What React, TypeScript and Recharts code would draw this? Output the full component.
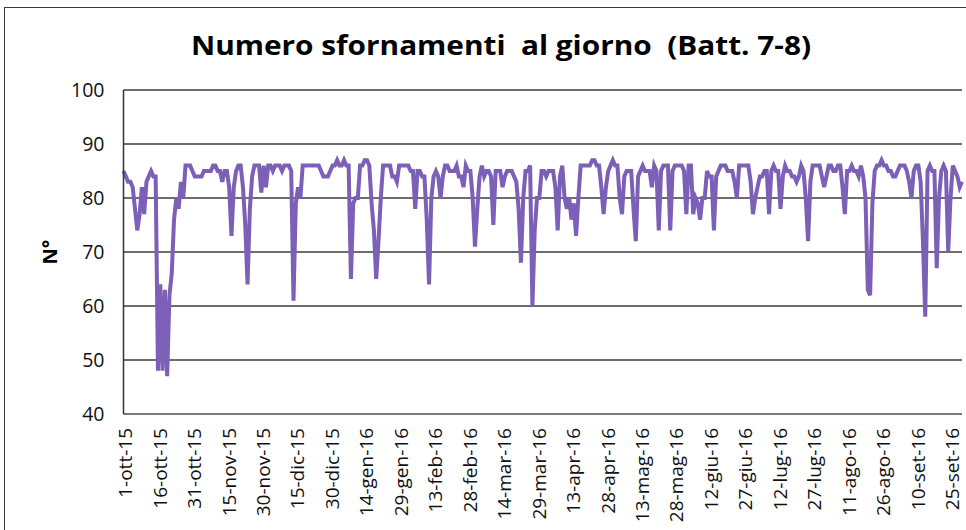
import { LineChart, Line, XAxis, YAxis, CartesianGrid } from 'recharts';

// daily values, one array per month (Oct 2015 - Sep 2016)
const OTT_15 = [85, 84, 83, 83, 82, 78, 74, 77, 82, 77, 83, 84, 85, 84, 84, 48, 64, 48, 63, 47, 62, 66, 76, 80, 78, 83, 80, 86, 86, 86, 85];
const NOV_15 = [84, 84, 84, 84, 85, 85, 85, 85, 86, 86, 85, 85, 83, 85, 85, 82, 73, 82, 85, 86, 86, 82, 75, 64, 78, 84, 86, 86, 86, 81];
const DIC_15 = [86, 82, 86, 86, 85, 86, 86, 86, 85, 86, 86, 86, 85, 61, 79, 82, 80, 86, 86, 86, 86, 86, 86, 86, 86, 85, 84, 84, 84, 85, 86];
const GEN_16 = [86, 87, 86, 86, 87, 86, 86, 65, 79, 80, 80, 86, 86, 87, 87, 86, 79, 74, 65, 72, 80, 86, 86, 86, 86, 84, 84, 83, 86, 86, 86];
const FEB_16 = [86, 86, 85, 85, 78, 85, 85, 84, 84, 76, 64, 80, 84, 85, 84, 80, 84, 86, 86, 85, 85, 85, 86, 84, 84, 82, 86, 85, 85];
const MAR_16 = [80, 71, 78, 84, 86, 84, 85, 85, 84, 75, 85, 85, 85, 82, 84, 85, 85, 85, 84, 83, 78, 68, 80, 85, 85, 86, 60, 74, 80, 80, 85];
const APR_16 = [85, 84, 85, 85, 85, 82, 74, 84, 86, 80, 78, 80, 76, 79, 73, 80, 86, 86, 86, 86, 86, 87, 87, 86, 86, 82, 77, 82, 85, 86];
const MAG_16 = [87, 86, 86, 80, 77, 84, 85, 85, 85, 78, 72, 84, 85, 86, 85, 85, 85, 82, 86, 85, 74, 85, 86, 86, 86, 74, 85, 86, 86, 86, 86];
const GIU_16 = [85, 77, 86, 86, 77, 80, 79, 76, 80, 80, 85, 84, 84, 74, 84, 85, 86, 86, 86, 85, 85, 85, 83, 80, 86, 86, 86, 86, 86, 83];
const LUG_16 = [77, 80, 82, 84, 84, 85, 85, 77, 85, 86, 85, 85, 78, 84, 86, 85, 85, 84, 84, 83, 84, 86, 85, 80, 72, 83, 86, 86, 86, 86, 84];
const AGO_16 = [82, 84, 86, 86, 85, 85, 86, 86, 82, 77, 85, 85, 86, 85, 85, 84, 86, 84, 80, 63, 62, 79, 85, 86, 86, 87, 86, 86, 85, 85, 84];
const SET_16 = [84, 85, 86, 86, 86, 85, 83, 80, 85, 86, 86, 83, 72, 58, 85, 86, 85, 85, 67, 80, 85, 86, 85, 70, 80, 86, 85, 84, 82, 83];

const VALUES = [
  ...OTT_15, ...NOV_15, ...DIC_15, ...GEN_16, ...FEB_16, ...MAR_16,
  ...APR_16, ...MAG_16, ...GIU_16, ...LUG_16, ...AGO_16, ...SET_16,
];

const MONTHS = ['gen', 'feb', 'mar', 'apr', 'mag', 'giu', 'lug', 'ago', 'set', 'ott', 'nov', 'dic'];

const TICK_LABELS = [
  '1-ott-15', '16-ott-15', '31-ott-15', '15-nov-15', '30-nov-15', '15-dic-15', '30-dic-15',
  '14-gen-16', '29-gen-16', '13-feb-16', '28-feb-16', '14-mar-16', '29-mar-16', '13-apr-16',
  '28-apr-16', '13-mag-16', '28-mag-16', '12-giu-16', '27-giu-16', '12-lug-16', '27-lug-16',
  '11-ago-16', '26-ago-16', '10-set-16', '25-set-16',
];

const Y_TICKS = [40, 50, 60, 70, 80, 90, 100];

const dayLabel = (i: number) => {
  const d = new Date(2015, 9, 1 + i);
  return `${d.getDate()}-${MONTHS[d.getMonth()]}-${String(d.getFullYear()).slice(2)}`;
};

const data = VALUES.map((v, i) => ({ date: dayLabel(i), n: v }));

const FONT = '"Open Sans", sans-serif';

const XTick = ({ x, y, payload }: any) => (
  <text
    transform={`translate(${x + 2},${y}) rotate(-90)`}
    textAnchor="end"
    dy="0.35em"
    fontSize={19}
    fontFamily={FONT}
    fill="#111"
  >
    {payload.value}
  </text>
);

const YTick = ({ x, y, payload }: any) => (
  <text x={x} y={y} textAnchor="end" dy="0.36em" fontSize={19.5} fontFamily={FONT} fill="#111">
    {payload.value}
  </text>
);

export default function App() {
  return (
    <div style={{ position: 'absolute', left: 0, top: 0, width: 966, height: 530, background: '#fff', overflow: 'hidden' }}>
      <div
        style={{
          position: 'absolute', left: 4, top: 7, width: 990, height: 560,
          border: '1.5px solid #3a3a3a', boxSizing: 'border-box',
        }}
      />
      <svg width={966} height={530} style={{ position: 'absolute', left: 0, top: 0 }}>
        <text
          x={501}
          y={55}
          textAnchor="middle"
          fontSize={26}
          fontWeight="bold"
          fontFamily={FONT}
          fill="#000"
          textLength={620}
          lengthAdjust="spacingAndGlyphs"
          xmlSpace="preserve"
          style={{ whiteSpace: 'pre' }}
        >
          {'Numero sfornamenti  al giorno  (Batt. 7-8)'}
        </text>
        <text
          transform="translate(57,252) rotate(-90)"
          textAnchor="middle"
          fontSize={20}
          fontWeight="bold"
          fontFamily={FONT}
          fill="#000"
        >
          N°
        </text>
      </svg>
      <div style={{ position: 'absolute', left: 0, top: 0 }}>
        <LineChart width={966} height={530} data={data} margin={{ top: 90, right: 4, bottom: 16, left: 23.5 }}>
          <CartesianGrid vertical={false} stroke="#3c3c3c" strokeWidth={1.5} />
          <XAxis
            dataKey="date"
            ticks={TICK_LABELS}
            interval={0}
            height={100}
            tickSize={0}
            tickMargin={14}
            tick={<XTick />}
            axisLine={{ stroke: '#7a7a7a', strokeWidth: 2 }}
            tickLine={false}
          />
          <YAxis
            domain={[40, 100]}
            ticks={Y_TICKS}
            width={100}
            tickSize={0}
            tickMargin={19}
            tick={<YTick />}
            axisLine={{ stroke: '#333', strokeWidth: 1.5 }}
            tickLine={false}
          />
          <Line
            type="linear"
            dataKey="n"
            stroke="#7c5fb6"
            strokeWidth={4}
            dot={false}
            isAnimationActive={false}
          />
        </LineChart>
      </div>
    </div>
  );
}
